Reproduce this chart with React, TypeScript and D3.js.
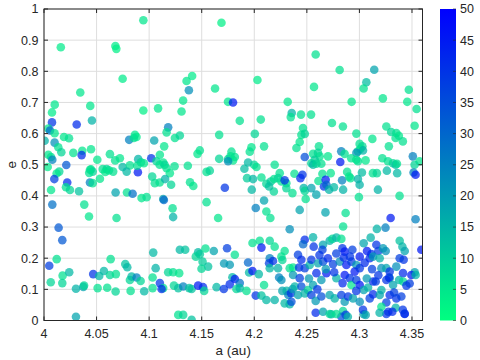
import React from "react";
import * as d3 from "d3";

// [a (au), e, colour value]
const highPoints: number[][] = [
  [4.016, 0.877, 4], [4.0345, 0.732, 5], [4.0102, 0.693, 5], [4.0076, 0.668, 4], [4.044, 0.689, 5],
  [4.0679, 0.881, 4], [4.0688, 0.872, 3], [4.0748, 0.776, 4], [4.0945, 0.964, 5], [4.0945, 0.674, 3],
  [4.1085, 0.681, 5], [4.1688, 0.956, 3], [4.1409, 0.785, 4], [4.1356, 0.769, 5], [4.1378, 0.739, 22],
  [4.1627, 0.745, 5], [4.203, 0.772, 4], [4.1323, 0.706, 5], [4.175, 0.702, 5], [4.1798, 0.7, 45],
  [4.1308, 0.671, 5], [4.2318, 0.702, 5], [4.2356, 0.666, 15], [4.2584, 0.854, 6], [4.2812, 0.804, 6],
  [4.3141, 0.805, 18], [4.2568, 0.75, 5], [4.3066, 0.765, 13], [4.304, 0.745, 6], [4.3223, 0.713, 5],
  [4.347, 0.741, 6], [4.2926, 0.702, 5], [4.3455, 0.702, 5], [4.3544, 0.679, 6], [4.2444, 0.661, 6],
  [4.254, 0.661, 6], [4.0076, 0.636, 40], [4.0311, 0.629, 42], [4.0456, 0.642, 15], [4.1862, 0.641, 6],
  [4.2062, 0.645, 6], [4.2347, 0.653, 6], [4.2739, 0.634, 6], [4.2843, 0.623, 6], [4.1181, 0.62, 25],
  [4.1166, 0.604, 6], [4.0041, 0.616, 5], [4.0057, 0.61, 30], [4.2463, 0.618, 6], [4.3256, 0.623, 6],
  [4.3525, 0.625, 5],
];

const midPoints: number[][] = [
  [4.0006, 0.577, 15], [4.0101, 0.601, 5], [4.0101, 0.571, 22], [4.019, 0.589, 5], [4.0238, 0.585, 6],
  [4.0136, 0.556, 6], [4.0165, 0.54, 8], [4.0041, 0.532, 5], [4.0067, 0.525, 6], [4.0079, 0.516, 25],
  [4.0279, 0.538, 6], [4.0364, 0.545, 5], [4.0358, 0.531, 42], [4.0447, 0.55, 5], [4.0035, 0.493, 4],
  [4.0212, 0.499, 33], [4.0145, 0.478, 8], [4.012, 0.472, 5], [4.0098, 0.454, 38], [4.0221, 0.443, 42],
  [4.0209, 0.428, 6], [4.0247, 0.419, 8], [4.0067, 0.419, 5], [4.0333, 0.415, 12], [4.0079, 0.372, 28],
  [4.0383, 0.372, 6], [4.0428, 0.334, 5], [4.069, 0.329, 6], [4.0507, 0.516, 5], [4.0437, 0.484, 5],
  [4.0447, 0.485, 6], [4.0463, 0.478, 8], [4.043, 0.474, 6], [4.0437, 0.443, 25], [4.0463, 0.441, 6],
  [4.0532, 0.455, 5], [4.0558, 0.486, 6], [4.0596, 0.486, 8], [4.0618, 0.482, 6], [4.0583, 0.477, 5],
  [4.0658, 0.478, 6], [4.0627, 0.534, 6], [4.0677, 0.514, 6], [4.0722, 0.521, 5], [4.0748, 0.493, 14],
  [4.0817, 0.498, 6], [4.0786, 0.478, 14], [4.0681, 0.411, 18], [4.0789, 0.411, 6], [4.0843, 0.407, 28],
  [4.0928, 0.393, 5], [4.0976, 0.396, 6], [4.081, 0.58, 25], [4.0865, 0.596, 5], [4.088, 0.589, 4],
  [4.0855, 0.586, 6], [4.0896, 0.518, 15], [4.0922, 0.508, 8], [4.095, 0.505, 5], [4.0893, 0.476, 45],
  [4.0886, 0.497, 6], [4.102, 0.521, 40], [4.1048, 0.578, 18], [4.1029, 0.462, 8], [4.1054, 0.441, 6],
  [4.107, 0.511, 8], [4.11, 0.5, 6], [4.11, 0.443, 6], [4.1134, 0.39, 18], [4.1143, 0.559, 5],
  [4.1245, 0.586, 6], [4.1292, 0.594, 8], [4.1666, 0.596, 6], [4.2005, 0.599, 8], [4.1482, 0.546, 6],
  [4.146, 0.535, 5], [4.1783, 0.542, 6], [4.1774, 0.527, 5], [4.1815, 0.525, 6], [4.1751, 0.518, 8],
  [4.1798, 0.514, 5], [4.1751, 0.511, 22], [4.1666, 0.519, 8], [4.1973, 0.556, 5], [4.1957, 0.542, 6],
  [4.2093, 0.559, 6], [4.1102, 0.532, 5], [4.1134, 0.507, 5], [4.1147, 0.5, 8], [4.1166, 0.489, 6],
  [4.1197, 0.473, 5], [4.1242, 0.495, 6], [4.1368, 0.497, 6], [4.1152, 0.454, 15], [4.1209, 0.436, 8],
  [4.1546, 0.477, 6], [4.1577, 0.481, 8], [4.1389, 0.444, 6], [4.142, 0.432, 5], [4.172, 0.426, 40],
  [4.1941, 0.507, 14], [4.1998, 0.5, 8], [4.2021, 0.493, 6], [4.1906, 0.487, 13], [4.2194, 0.5, 6],
  [4.2068, 0.459, 6], [4.1931, 0.457, 10], [4.1988, 0.454, 14], [4.1976, 0.42, 14], [4.2115, 0.439, 8],
  [4.2157, 0.446, 10], [4.2188, 0.454, 6], [4.2242, 0.473, 6], [4.2226, 0.457, 8], [4.2258, 0.446, 6],
  [4.2305, 0.441, 6], [4.2305, 0.425, 8], [4.2186, 0.414, 8], [4.2141, 0.43, 12], [4.2289, 0.45, 40],
  [4.2363, 0.409, 6], [4.114, 0.387, 30], [4.1223, 0.36, 6], [4.1228, 0.332, 15], [4.1546, 0.38, 6],
  [4.1656, 0.329, 5], [4.2093, 0.385, 18], [4.2014, 0.361, 25], [4.2115, 0.35, 6], [4.2153, 0.329, 6],
  [4.2448, 0.596, 6], [4.248, 0.599, 8], [4.2432, 0.573, 5], [4.2401, 0.554, 6], [4.2615, 0.559, 6],
  [4.2971, 0.6, 6], [4.3123, 0.583, 5], [4.3302, 0.605, 8], [4.3351, 0.602, 6], [4.3375, 0.593, 5],
  [4.3344, 0.586, 6], [4.3413, 0.575, 6], [4.328, 0.559, 6], [4.3002, 0.567, 6], [4.3028, 0.559, 8],
  [4.3009, 0.551, 6], [4.2986, 0.543, 5], [4.3034, 0.546, 15], [4.2827, 0.543, 25], [4.2971, 0.538, 22],
  [4.2859, 0.535, 6], [4.2922, 0.521, 6], [4.297, 0.516, 5], [4.2986, 0.511, 6], [4.3059, 0.514, 5],
  [4.248, 0.525, 35], [4.2559, 0.535, 6], [4.2606, 0.538, 8], [4.2622, 0.527, 6], [4.2575, 0.516, 10],
  [4.2543, 0.505, 8], [4.2559, 0.5, 14], [4.2638, 0.503, 6], [4.2701, 0.527, 5], [4.2591, 0.503, 8],
  [4.2818, 0.509, 45], [4.3218, 0.521, 6], [4.3271, 0.511, 6], [4.3319, 0.505, 8], [4.3344, 0.5, 14],
  [4.3357, 0.503, 6], [4.3508, 0.527, 25], [4.3572, 0.511, 5], [4.3525, 0.5, 8], [4.2382, 0.471, 6],
  [4.2458, 0.468, 40], [4.2439, 0.457, 42], [4.2648, 0.471, 6], [4.2727, 0.473, 5], [4.261, 0.448, 6],
  [4.2679, 0.452, 45], [4.2663, 0.43, 40], [4.2686, 0.436, 30], [4.2712, 0.42, 15], [4.2758, 0.428, 14],
  [4.2835, 0.45, 25], [4.2845, 0.42, 15], [4.2883, 0.477, 6], [4.2902, 0.462, 5], [4.2915, 0.457, 6],
  [4.2986, 0.454, 15], [4.3002, 0.436, 15], [4.3024, 0.475, 13], [4.3128, 0.473, 6], [4.3166, 0.473, 8],
  [4.3261, 0.481, 14], [4.3359, 0.473, 14], [4.3176, 0.42, 15], [4.3515, 0.475, 25], [4.3534, 0.468, 45],
  [4.247, 0.425, 15], [4.248, 0.416, 8], [4.2543, 0.425, 18], [4.259, 0.404, 18], [4.2489, 0.39, 6],
  [4.2995, 0.396, 6], [4.3382, 0.4, 6], [4.2432, 0.355, 18], [4.2677, 0.347, 18], [4.2869, 0.345, 6],
  [4.3297, 0.329, 45], [4.3534, 0.325, 25],
];

const lowPoints: number[][] = [
  [4.0139, 0.298, 33], [4.0174, 0.258, 33], [4.0121, 0.197, 6], [4.005, 0.176, 38], [4.0064, 0.123, 8],
  [4.0177, 0.144, 6], [4.0174, 0.12, 8], [4.024, 0.155, 14], [4.0304, 0.102, 15], [4.0374, 0.108, 18],
  [4.0381, 0.112, 8], [4.0304, 0.012, 18], [4.0468, 0.149, 40], [4.0525, 0.143, 14], [4.057, 0.159, 14],
  [4.051, 0.104, 6], [4.0634, 0.197, 6], [4.0627, 0.146, 8], [4.0684, 0.149, 6], [4.0601, 0.105, 6],
  [4.0681, 0.093, 8], [4.0773, 0.181, 12], [4.0792, 0.171, 14], [4.0817, 0.13, 8], [4.0833, 0.141, 14],
  [4.0881, 0.138, 25], [4.0824, 0.095, 6], [4.0919, 0.127, 8], [4.0953, 0.094, 14], [4.1033, 0.138, 6],
  [4.1033, 0.104, 6], [4.1039, 0.218, 14], [4.1062, 0.168, 15], [4.1102, 0.12, 40], [4.1134, 0.104, 6],
  [4.2337, 0.293, 22], [4.1292, 0.227, 14], [4.1343, 0.227, 12], [4.1466, 0.219, 14], [4.1444, 0.205, 8],
  [4.1482, 0.213, 10], [4.1536, 0.231, 6], [4.1615, 0.223, 18], [4.1741, 0.232, 38], [4.1815, 0.211, 6],
  [4.1508, 0.189, 10], [4.1561, 0.173, 12], [4.1498, 0.166, 8], [4.1713, 0.183, 20], [4.1767, 0.179, 20],
  [4.1941, 0.186, 30], [4.1983, 0.249, 6], [4.2052, 0.256, 6], [4.2147, 0.256, 8], [4.2194, 0.237, 6],
  [4.2068, 0.234, 45], [4.2289, 0.223, 6], [4.2147, 0.2, 25], [4.2178, 0.191, 40], [4.2141, 0.184, 38],
  [4.2147, 0.168, 14], [4.2258, 0.205, 6], [4.2267, 0.194, 8], [4.2226, 0.168, 15], [4.2337, 0.168, 6],
  [4.1181, 0.155, 8], [4.1228, 0.155, 6], [4.1286, 0.152, 5], [4.1792, 0.139, 14], [4.1815, 0.133, 45],
  [4.1767, 0.116, 42], [4.1862, 0.12, 28], [4.1951, 0.154, 14], [4.1983, 0.159, 45], [4.2043, 0.149, 14],
  [4.2236, 0.138, 25], [4.2258, 0.13, 22], [4.2093, 0.114, 6], [4.1118, 0.101, 42], [4.1236, 0.112, 8],
  [4.1277, 0.104, 12], [4.1324, 0.109, 25], [4.1381, 0.104, 12], [4.1404, 0.101, 12], [4.1466, 0.112, 45],
  [4.1513, 0.107, 42], [4.1523, 0.095, 8], [4.1641, 0.107, 14], [4.171, 0.101, 40], [4.183, 0.101, 8],
  [4.1862, 0.104, 14], [4.1926, 0.095, 6], [4.2014, 0.08, 40], [4.2068, 0.08, 12], [4.2115, 0.066, 14],
  [4.2194, 0.066, 15], [4.2267, 0.095, 18], [4.2308, 0.095, 15], [4.2324, 0.082, 25], [4.2349, 0.088, 40],
  [4.2365, 0.101, 20], [4.2289, 0.055, 14], [4.2337, 0.052, 15], [4.1277, 0.018, 6], [4.1324, 0.018, 8],
  [4.1404, 0.002, 12],
];

const clusterPoints: number[][] = [
  [4.2845, 0.302, 6], [4.3166, 0.294, 15], [4.3248, 0.298, 25],
  [4.248, 0.259, 42], [4.2464, 0.245, 30], [4.2559, 0.267, 15], [4.2565, 0.237, 40], [4.2654, 0.243, 18],
  [4.2648, 0.227, 38], [4.2717, 0.256, 15], [4.2743, 0.262, 8], [4.2781, 0.266, 14], [4.2828, 0.262, 6],
  [4.2838, 0.232, 40], [4.286, 0.221, 45], [4.2933, 0.227, 38], [4.3003, 0.205, 45], [4.3041, 0.248, 18],
  [4.3107, 0.266, 15], [4.3072, 0.223, 45], [4.3114, 0.213, 42], [4.3161, 0.243, 40], [4.318, 0.223, 38],
  [4.3225, 0.232, 20], [4.325, 0.223, 22], [4.3383, 0.256, 12], [4.3409, 0.237, 15], [4.3431, 0.223, 18],
  [4.3421, 0.195, 40], [4.3589, 0.227, 45], [4.2416, 0.211, 38], [4.2448, 0.195, 42], [4.2369, 0.17, 5],
  [4.2426, 0.17, 40], [4.248, 0.168, 38], [4.2527, 0.178, 15], [4.2543, 0.195, 40], [4.2607, 0.184, 18],
  [4.2654, 0.189, 35], [4.2749, 0.181, 38], [4.2813, 0.189, 22], [4.2851, 0.202, 42], [4.2876, 0.178, 45],
  [4.2924, 0.189, 38], [4.2971, 0.178, 20], [4.2955, 0.157, 45], [4.3003, 0.168, 40], [4.3098, 0.2, 42],
  [4.313, 0.205, 20], [4.3193, 0.2, 15], [4.3209, 0.168, 22], [4.3256, 0.168, 18], [4.3288, 0.157, 40],
  [4.3351, 0.173, 22], [4.3383, 0.2, 38], [4.3415, 0.152, 42], [4.3526, 0.155, 18], [4.3288, 0.136, 22],
  [4.2369, 0.146, 20], [4.2432, 0.136, 38], [4.2385, 0.109, 15], [4.2448, 0.109, 35], [4.2511, 0.098, 8],
  [4.2559, 0.114, 18], [4.2591, 0.152, 42], [4.2638, 0.13, 20], [4.2686, 0.152, 45], [4.2781, 0.136, 15],
  [4.286, 0.146, 45], [4.2908, 0.136, 40], [4.2924, 0.114, 5], [4.2971, 0.13, 38], [4.3003, 0.114, 45],
  [4.3041, 0.098, 18], [4.3082, 0.106, 15], [4.313, 0.125, 42], [4.3155, 0.125, 38], [4.3209, 0.098, 15],
  [4.3256, 0.13, 40], [4.3282, 0.138, 42], [4.332, 0.114, 18], [4.3377, 0.13, 15], [4.3415, 0.125, 8],
  [4.3447, 0.112, 40], [4.3478, 0.119, 38], [4.3494, 0.146, 45], [4.3535, 0.146, 15], [4.2353, 0.06, 35],
  [4.2416, 0.082, 18], [4.248, 0.087, 15], [4.2543, 0.082, 38], [4.2584, 0.063, 20], [4.2638, 0.077, 35],
  [4.2717, 0.082, 18], [4.2765, 0.071, 15], [4.2828, 0.082, 38], [4.286, 0.06, 20], [4.2892, 0.077, 40],
  [4.2939, 0.071, 18], [4.3003, 0.06, 22], [4.3098, 0.071, 38], [4.313, 0.084, 42], [4.3193, 0.082, 18],
  [4.3256, 0.058, 38], [4.3288, 0.082, 42], [4.3351, 0.071, 40], [4.3399, 0.077, 38], [4.3209, 0.044, 5],
  [4.3345, 0.041, 15], [4.3275, 0.028, 40], [4.3431, 0.022, 40], [4.2584, 0.025, 42], [4.2654, 0.028, 18],
  [4.2733, 0.02, 15], [4.2844, 0.03, 8], [4.287, 0.018, 40], [4.3041, 0.02, 18], [4.2828, 0.012, 35],
  [4.289, 0.012, 15], [4.3034, 0.034, 40], [4.306, 0.018, 18], [4.3256, 0.021, 40], [4.3313, 0.028, 42],
  [4.343, 0.021, 42], [4.3413, 0.034, 40], [4.3192, 0.025, 15], [4.2717, 0.021, 8], [4.278, 0.021, 6],
  [4.262, 0.21, 40], [4.27, 0.2, 42], [4.278, 0.215, 38], [4.291, 0.205, 40], [4.305, 0.185, 42],
  [4.312, 0.165, 38], [4.268, 0.165, 20], [4.276, 0.155, 40], [4.284, 0.12, 42], [4.297, 0.095, 40],
  [4.318, 0.145, 40], [4.26, 0.1, 40], [4.252, 0.135, 20], [4.307, 0.135, 20], [4.333, 0.09, 38],
];

const xTicks = [4, 4.05, 4.1, 4.15, 4.2, 4.25, 4.3, 4.35];
const yTicks = [0, 0.1, 0.2, 0.3, 0.4, 0.5, 0.6, 0.7, 0.8, 0.9, 1];
const cTicks = [0, 5, 10, 15, 20, 25, 30, 35, 40, 45, 50];

const font = "'Liberation Sans', Arial, sans-serif";
const axisColor = "#262626";

// flipped "winter" map: 0 -> spring green, 50 -> blue
const colorOf = (v: number) => {
  const t = Math.max(0, Math.min(1, v / 50));
  return d3.rgb(0, 255 * (1 - t), 255 * (0.5 + 0.5 * t)).toString();
};

export default function App() {
  const left = 44, right = 422.5, top = 9, bottom = 320.5;
  const x = d3.scaleLinear().domain([4, 4.36]).range([left, right]);
  const y = d3.scaleLinear().domain([0, 1]).range([bottom, top]);
  const cbLeft = 440, cbRight = 456;
  const cy = d3.scaleLinear().domain([0, 50]).range([bottom, top]);

  const points = [...highPoints, ...midPoints, ...lowPoints, ...clusterPoints];

  return (
    <svg width={480} height={360} style={{ position: "absolute", left: 0, top: 0, background: "#fff" }}>
      <defs>
        <clipPath id="plotClip">
          <rect x={left} y={top} width={right - left} height={bottom - top} />
        </clipPath>
        <linearGradient id="cbar" x1="0" y1="1" x2="0" y2="0">
          {d3.range(0, 51, 5).map(v => (
            <stop key={v} offset={v / 50} stopColor={colorOf(v)} />
          ))}
        </linearGradient>
      </defs>

      <rect x={left} y={top} width={right - left} height={bottom - top} fill="#fff" />

      {xTicks.map(t => (
        <line key={"gx" + t} x1={x(t)} x2={x(t)} y1={top} y2={bottom} stroke="#dedede" />
      ))}
      {yTicks.map(t => (
        <line key={"gy" + t} x1={left} x2={right} y1={y(t)} y2={y(t)} stroke="#dedede" />
      ))}

      <g clipPath="url(#plotClip)">
        {points.map((p, i) => (
          <circle key={i} cx={x(p[0])} cy={y(p[1])} r={4.3} fill={colorOf(p[2])} fillOpacity={0.72} />
        ))}
      </g>

      <rect x={left} y={top} width={right - left} height={bottom - top} fill="none" stroke={axisColor} strokeWidth={1} />

      {xTicks.map(t => (
        <g key={"tx" + t}>
          <line x1={x(t)} x2={x(t)} y1={bottom} y2={bottom - 4} stroke={axisColor} />
          <line x1={x(t)} x2={x(t)} y1={top} y2={top + 4} stroke={axisColor} />
          <text x={x(t)} y={338} textAnchor="middle" fontFamily={font} fontSize={12.5} fill={axisColor}>
            {d3.format("~g")(t)}
          </text>
        </g>
      ))}
      {yTicks.map(t => (
        <g key={"ty" + t}>
          <line x1={left} x2={left + 4} y1={y(t)} y2={y(t)} stroke={axisColor} />
          <line x1={right} x2={right - 4} y1={y(t)} y2={y(t)} stroke={axisColor} />
          <text x={38.5} y={y(t)} dy="0.35em" textAnchor="end" fontFamily={font} fontSize={12.5} fill={axisColor}>
            {d3.format("~g")(t)}
          </text>
        </g>
      ))}

      <text x={(left + right) / 2} y={355} textAnchor="middle" fontFamily={font} fontSize={13.5} fill={axisColor}>
        a (au)
      </text>
      <text transform={`translate(16, ${(top + bottom) / 2}) rotate(-90)`} textAnchor="middle" fontFamily={font} fontSize={13.5} fill={axisColor}>
        e
      </text>

      <rect x={cbLeft} y={top} width={cbRight - cbLeft} height={bottom - top} fill="url(#cbar)" />
      {cTicks.map(t => (
        <g key={"tc" + t}>
          <line x1={cbRight - 3} x2={cbRight} y1={cy(t)} y2={cy(t)} stroke={axisColor} strokeOpacity={0.6} />
          <text x={460} y={cy(t)} dy="0.35em" fontFamily={font} fontSize={12.5} fill={axisColor}>
            {t}
          </text>
        </g>
      ))}
    </svg>
  );
}
